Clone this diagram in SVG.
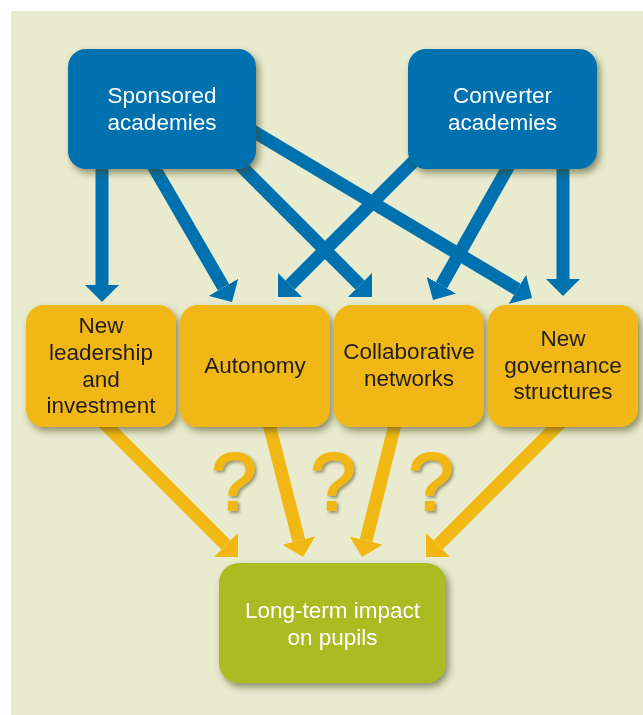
<svg xmlns="http://www.w3.org/2000/svg" width="643" height="715" viewBox="0 0 643 715">
  <defs>
    <filter id="shadow" x="-20%" y="-20%" width="140%" height="150%">
      <feDropShadow dx="3" dy="4" stdDeviation="3.5" flood-color="#3c3c14" flood-opacity="0.55"/>
    </filter>
    <filter id="qshadow" x="-20%" y="-20%" width="150%" height="150%">
      <feDropShadow dx="2" dy="2" stdDeviation="1.5" flood-color="#3c3c14" flood-opacity="0.5"/>
    </filter>
    <marker id="headBlue" markerUnits="userSpaceOnUse" viewBox="0 -17 17 34" markerWidth="17" markerHeight="34" refX="0" refY="0" orient="auto">
      <path d="M0,-17 L17,0 L0,17 z" fill="#0071AF"/>
    </marker>
    <marker id="headGold" markerUnits="userSpaceOnUse" viewBox="0 -17 17 34" markerWidth="17" markerHeight="34" refX="0" refY="0" orient="auto">
      <path d="M0,-17 L17,0 L0,17 z" fill="#F1B712"/>
    </marker>
  </defs>
  <style>
    .blue { fill: #0071AF; }
    .gold { fill: #F1B712; }
    .green { fill: #ABBB24; }
    .lblW { font-family: "Liberation Sans", Arial, sans-serif; font-size: 22.5px; fill: #FFFFFF; text-anchor: middle; }
    .lblD { font-family: "Liberation Sans", Arial, sans-serif; font-size: 22.5px; fill: #231F20; text-anchor: middle; }
    .cb { stroke: #0071AF; stroke-width: 13; fill: none; marker-end: url(#headBlue); }
    .cg { stroke: #F1B712; stroke-width: 13; fill: none; marker-end: url(#headGold); }
    .q { font-family: "Liberation Sans", Arial, sans-serif; font-size: 82px; font-weight: normal; fill: #F1B712; stroke: #F1B712; stroke-width: 1.8; text-anchor: middle; }
  </style>

  <rect x="11" y="11" width="632" height="704" fill="#E8EBCE"/>

  <g id="connectors">
    <line class="cb" x1="102" y1="150" x2="102" y2="285"/>
    <line class="cb" x1="131.8" y1="129" x2="223.5" y2="287.3"/>
    <line class="cb" x1="192" y1="117" x2="360" y2="285"/>
    <line class="cb" x1="240" y1="123.4" x2="517.4" y2="289.3"/>
    <line class="cb" x1="448" y1="127" x2="290" y2="285"/>
    <line class="cb" x1="526.5" y1="134.7" x2="441.4" y2="285.2"/>
    <line class="cb" x1="563" y1="150" x2="563" y2="279"/>
    <line class="cg" x1="98" y1="417" x2="226" y2="545"/>
    <line class="cg" x1="263.4" y1="402" x2="298.8" y2="540.5"/>
    <line class="cg" x1="400.6" y1="401.8" x2="366.1" y2="540.5"/>
    <line class="cg" x1="566" y1="417" x2="438" y2="545"/>
  </g>

  <g id="question-marks" filter="url(#qshadow)">
    <text class="q" x="234" y="510">?</text>
    <text class="q" x="333" y="510">?</text>
    <text class="q" x="431" y="510">?</text>
  </g>

  <g id="sponsored" filter="url(#shadow)">
    <rect class="blue" x="68" y="49" width="188" height="120" rx="18"/>
    <text class="lblW" x="162" y="103">Sponsored</text>
    <text class="lblW" x="162" y="130">academies</text>
  </g>
  <g id="converter" filter="url(#shadow)">
    <rect class="blue" x="408" y="49" width="189" height="120" rx="18"/>
    <text class="lblW" x="502.5" y="103">Converter</text>
    <text class="lblW" x="502.5" y="130">academies</text>
  </g>

  <g id="leadership" filter="url(#shadow)">
    <rect class="gold" x="26" y="305" width="150" height="122" rx="18"/>
    <text class="lblD" x="101" y="333">New</text>
    <text class="lblD" x="101" y="360">leadership</text>
    <text class="lblD" x="101" y="387">and</text>
    <text class="lblD" x="101" y="413">investment</text>
  </g>
  <g id="autonomy" filter="url(#shadow)">
    <rect class="gold" x="180" y="305" width="150" height="122" rx="18"/>
    <text class="lblD" x="255" y="373">Autonomy</text>
  </g>
  <g id="networks" filter="url(#shadow)">
    <rect class="gold" x="334" y="305" width="150" height="122" rx="18"/>
    <text class="lblD" x="409" y="359">Collaborative</text>
    <text class="lblD" x="409" y="386">networks</text>
  </g>
  <g id="governance" filter="url(#shadow)">
    <rect class="gold" x="488" y="305" width="150" height="122" rx="18"/>
    <text class="lblD" x="563" y="346">New</text>
    <text class="lblD" x="563" y="373">governance</text>
    <text class="lblD" x="563" y="399">structures</text>
  </g>

  <g id="impact" filter="url(#shadow)">
    <rect class="green" x="219" y="563" width="227" height="120" rx="20"/>
    <text class="lblW" x="332.5" y="618">Long-term impact</text>
    <text class="lblW" x="332.5" y="645">on pupils</text>
  </g>
</svg>
